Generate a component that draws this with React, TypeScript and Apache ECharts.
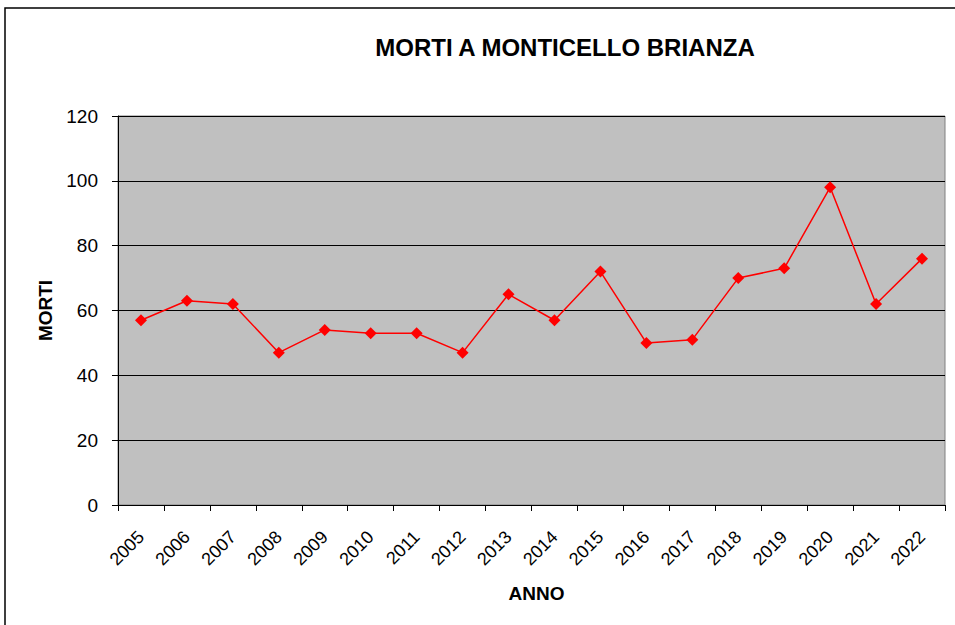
import React, { useEffect, useRef } from "react";
import * as echarts from "echarts";

const years = ["2005","2006","2007","2008","2009","2010","2011","2012","2013","2014","2015","2016","2017","2018","2019","2020","2021","2022"];
const deaths = [57, 63, 62, 47, 54, 53, 53, 47, 65, 57, 72, 50, 51, 70, 73, 98, 62, 76];
const titleText = "MORTI A MONTICELLO BRIANZA";
const yName = "MORTI";
const xName = "ANNO";

const FONT = "Liberation Sans, Arial, sans-serif";

export default function App() {
  const ref = useRef<HTMLDivElement>(null);
  useEffect(() => {
    if (!ref.current) return;
    const chart = echarts.init(ref.current, null, { renderer: "svg" });
    chart.setOption({
      animation: false,
      backgroundColor: "#ffffff",
      textStyle: { fontFamily: FONT },
      graphic: [
        {
          type: "rect",
          shape: { x: 5, y: 8, width: 970, height: 640 },
          style: { fill: "none", stroke: "#000", lineWidth: 1.5 },
          silent: true,
          z: -1,
        },
        {
          type: "text",
          x: 565,
          y: 47,
          style: {
            text: titleText,
            fontSize: 24,
            fontWeight: "bold",
            fontFamily: FONT,
            fill: "#000",
            align: "center",
            verticalAlign: "middle",
          },
        },
      ],
      grid: {
        left: 118,
        top: 116,
        width: 827,
        height: 389,
        show: true,
        backgroundColor: "#c0c0c0",
        borderColor: "#808080",
        borderWidth: 1,
        containLabel: false,
      },
      xAxis: {
        type: "category",
        data: years,
        boundaryGap: true,
        name: xName,
        nameLocation: "middle",
        nameGap: 79,
        nameTextStyle: { fontSize: 19, fontWeight: "bold", color: "#000", fontFamily: FONT, padding: [0, 0, 0, 10] },
        axisLine: { show: true, lineStyle: { color: "#000", width: 1 } },
        axisTick: { show: true, length: 6, alignWithLabel: false, lineStyle: { color: "#000" } },
        axisLabel: { rotate: 45, fontSize: 18, color: "#000", margin: 29, interval: 0, fontFamily: FONT },
        splitLine: { show: false },
      },
      yAxis: {
        type: "value",
        min: 0,
        max: 120,
        interval: 20,
        name: yName,
        nameLocation: "middle",
        nameRotate: 90,
        nameGap: 63,
        nameTextStyle: { fontSize: 19, fontWeight: "bold", color: "#000", fontFamily: FONT },
        axisLine: { show: true, lineStyle: { color: "#000", width: 1 } },
        axisTick: { show: true, length: 6, lineStyle: { color: "#000" } },
        axisLabel: { fontSize: 19, color: "#000", margin: 20, fontFamily: FONT },
        splitLine: { show: true, lineStyle: { color: "#000", width: 1 } },
      },
      series: [
        {
          type: "line",
          data: deaths,
          symbol: "diamond",
          symbolSize: 12,
          showAllSymbol: true,
          itemStyle: { color: "#ff0000" },
          lineStyle: { color: "#ff0000", width: 1.5 },
        },
      ],
    });
    return () => chart.dispose();
  }, []);
  return (
    <div
      ref={ref}
      style={{ position: "fixed", left: 0, top: 0, width: 955, height: 625 }}
    />
  );
}
